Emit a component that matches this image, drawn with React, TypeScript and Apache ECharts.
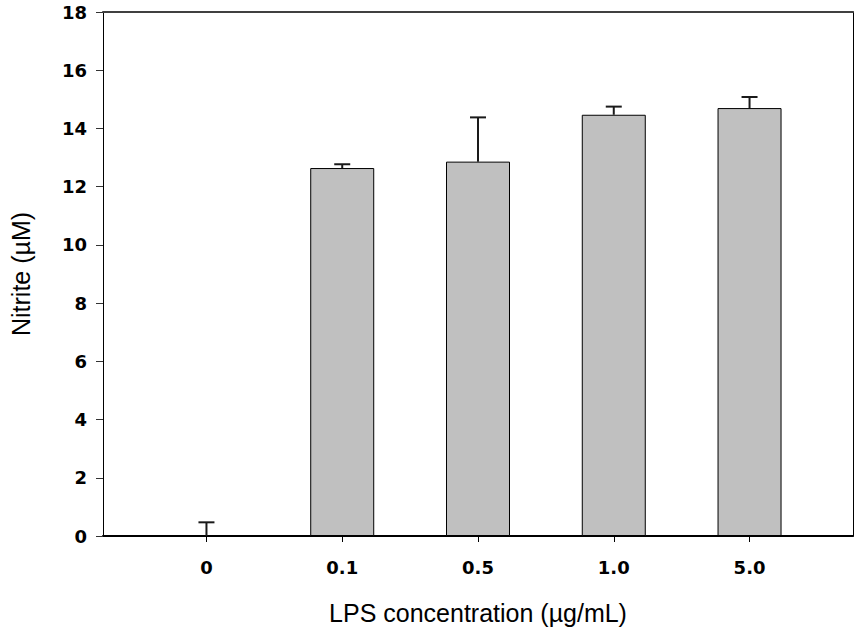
import React, { useEffect, useRef } from "react";
import * as echarts from "echarts";

const categories = ["0", "0.1", "0.5", "1.0", "5.0"];
const nitrite = [0, 12.64, 12.86, 14.47, 14.7];
const errorUp = [0.47, 0.13, 1.52, 0.28, 0.38];
const yTicks = [0, 2, 4, 6, 8, 10, 12, 14, 16, 18];

export default function App() {
  const ref = useRef<HTMLDivElement>(null);
  useEffect(() => {
    if (!ref.current) return;
    const chart = echarts.init(ref.current, undefined, { renderer: "svg" });
    const tickFont = "'DejaVu Sans', sans-serif";
    const nameFont = "'Liberation Sans', Arial, sans-serif";
    const idx = categories.map((_, i) => i);
    chart.setOption({
      animation: false,
      grid: { left: 103, right: 3, top: 12, bottom: 93 },
      xAxis: [
        {
          type: "value",
          min: -0.762,
          max: 4.762,
          splitLine: { show: false },
          axisLine: { show: true, onZero: false, lineStyle: { color: "#000", width: 2 } },
          axisTick: { show: true, length: 6, customValues: idx, lineStyle: { color: "#000", width: 1 } },
          axisLabel: {
            customValues: idx,
            formatter: (v: number) => categories[Math.round(v)] ?? "",
            color: "#000",
            fontFamily: tickFont,
            fontWeight: "bold",
            fontSize: 18,
            margin: 22,
          },
          name: "LPS concentration (\u00b5g/mL)",
          nameLocation: "middle",
          nameGap: 64,
          nameTextStyle: { color: "#000", fontFamily: nameFont, fontSize: 25 },
        },
        {
          type: "value",
          position: "top",
          min: -0.762,
          max: 4.762,
          splitLine: { show: false },
          axisLine: { show: true, onZero: false, lineStyle: { color: "#404040", width: 2 } },
          axisTick: { show: false },
          axisLabel: { show: false },
        },
      ],
      yAxis: [
        {
          type: "value",
          position: "left",
          min: 0,
          max: 18,
          interval: 2,
          splitLine: { show: false },
          axisLine: { show: true, onZero: false, lineStyle: { color: "#000", width: 1 } },
          axisTick: { show: true, length: 7, lineStyle: { color: "#333", width: 1 } },
          axisLabel: {
            customValues: yTicks,
            color: "#000",
            fontFamily: tickFont,
            fontWeight: "bold",
            fontSize: 18,
            margin: 16,
          },
          name: "Nitrite (\u00b5M)",
          nameLocation: "middle",
          nameGap: 70,
          nameTextStyle: { color: "#000", fontFamily: nameFont, fontSize: 25 },
        },
        {
          type: "value",
          position: "right",
          min: 0,
          max: 18,
          splitLine: { show: false },
          axisLine: { show: true, onZero: false, lineStyle: { color: "#000", width: 1 } },
          axisTick: { show: false },
          axisLabel: { show: false },
        },
      ],
      series: [
        {
          type: "bar",
          xAxisIndex: 0,
          yAxisIndex: 0,
          barWidth: 64,
          data: nitrite.map((v, i) => [i, v]),
          itemStyle: { color: "#c0c0c0", borderColor: "#000", borderWidth: 1 },
          z: 2,
        },
        {
          type: "custom",
          xAxisIndex: 0,
          yAxisIndex: 0,
          data: nitrite.map((v, i) => [i, v, v + errorUp[i]]),
          z: 3,
          renderItem: (params: any, api: any) => {
            const x = api.value(0);
            const base = api.coord([x, api.value(1)]);
            const top = api.coord([x, api.value(2)]);
            const half = 8;
            return {
              type: "group",
              children: [
                {
                  type: "line",
                  shape: { x1: base[0], y1: base[1], x2: top[0], y2: top[1] },
                  style: { stroke: "#1a1a1a", lineWidth: 2 },
                },
                {
                  type: "line",
                  shape: { x1: top[0] - half, y1: top[1], x2: top[0] + half, y2: top[1] },
                  style: { stroke: "#1a1a1a", lineWidth: 2 },
                },
              ],
            };
          },
        },
      ],
    });
    return () => chart.dispose();
  }, []);
  return <div ref={ref} style={{ width: 856, height: 630, position: "absolute", left: 0, top: 0, background: "#fff" }} />;
}
